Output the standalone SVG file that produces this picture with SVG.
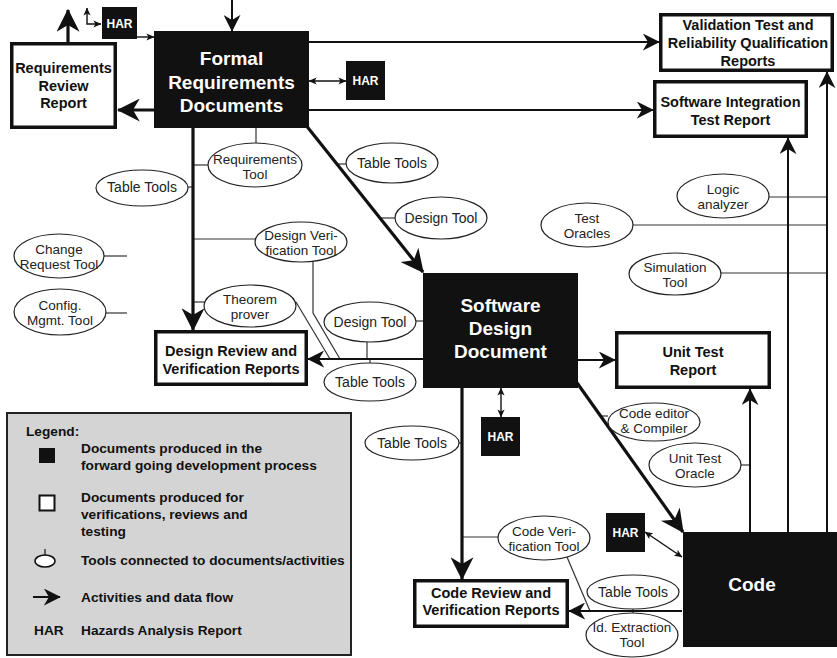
<svg xmlns="http://www.w3.org/2000/svg" width="837" height="658" viewBox="0 0 837 658">
<style>
text{font-family:"Liberation Sans",Arial,Helvetica,sans-serif;}
.doc{fill:#111;}
.rep{fill:#fff;stroke:#111;stroke-width:3.5;}
.big{fill:#fff;font-weight:bold;font-size:19px;text-anchor:middle;}
.bt{fill:#111;font-weight:bold;font-size:14.5px;text-anchor:middle;}
.har{fill:#111;}
.hart{fill:#fff;font-weight:bold;font-size:12px;text-anchor:middle;}
.tool ellipse{fill:#fff;stroke:#222;stroke-width:1.2;}
.tool text{fill:#222;font-size:14px;text-anchor:middle;}
.tool text.two{font-size:13.5px;}
.thin{fill:none;stroke:#333;stroke-width:1.2;}
.a3{fill:none;stroke:#111;stroke-width:3.2;marker-end:url(#ab);}
.a2{fill:none;stroke:#111;stroke-width:2;marker-end:url(#am);}
.a1{fill:none;stroke:#111;stroke-width:1.4;marker-end:url(#as);marker-start:url(#as);}
.lg{fill:#111;font-weight:bold;font-size:13.7px;}
</style>
<defs>
<marker id="ab" viewBox="0 0 20 20" refX="19" refY="10" markerWidth="23" markerHeight="23" markerUnits="userSpaceOnUse" orient="auto"><path d="M0,0 L20,10 L0,20 L6,10 z" fill="#111"/></marker>
<marker id="am" viewBox="0 0 20 20" refX="19" refY="10" markerWidth="17" markerHeight="17" markerUnits="userSpaceOnUse" orient="auto"><path d="M0,0 L20,10 L0,20 L6,10 z" fill="#111"/></marker>
<marker id="as" viewBox="0 0 20 20" refX="19" refY="10" markerWidth="8" markerHeight="8" markerUnits="userSpaceOnUse" orient="auto-start-reverse"><path d="M0,1 L20,10 L0,19 L5,10 z" fill="#111"/></marker>
</defs>

<g id="connectors">
<path class="thin" d="M256,128 V143"/>
<path class="thin" d="M193,165 H209"/>
<path class="thin" d="M188,187 H193"/>
<path class="thin" d="M337,164 H346"/>
<path class="thin" d="M381,218 H395"/>
<path class="thin" d="M193,239 H255"/>
<path class="thin" d="M104,256 H127"/>
<path class="thin" d="M106,313 H127"/>
<path class="thin" d="M193,302 H204"/>
<path class="thin" d="M313,261 V313 L340,359"/>
<path class="thin" d="M296,302 L330,359"/>
<path class="thin" d="M416,321 H423"/>
<path class="thin" d="M367,342 V359"/>
<path class="thin" d="M370,359 V363"/>
<path class="thin" d="M769,197 H827"/>
<path class="thin" d="M633,225 H827"/>
<path class="thin" d="M721,273 H827"/>
<path class="thin" d="M601,416 H608"/>
<path class="thin" d="M741,465 H750"/>
<path class="thin" d="M459,443 H462"/>
<path class="thin" d="M462,537 H498"/>
<path class="thin" d="M567,557 L590,611"/>
<path class="thin" d="M633,609 V613"/>
<path class="a2" d="M232,0 V31"/>
<path class="a3" d="M154,110 H118"/>
<path class="a3" d="M68,42 V10"/>
<path class="a1" d="M87,8 V24 H101"/>
<path fill="none" stroke="#111" stroke-width="1.4" marker-end="url(#as)" d="M137,37 H154"/>
<path class="a1" d="M309,81 H346"/>
<path class="a2" d="M309,42 H659"/>
<path class="a2" d="M309,110 H653"/>
<path class="a3" d="M305,124 L423,272"/>
<path class="a3" d="M193,128 V330"/>
<path class="a2" d="M423,359 H308"/>
<path class="a2" d="M578,360 H615"/>
<path class="a1" d="M501,388 V417"/>
<path class="a3" d="M462,388 V579"/>
<path class="a3" d="M575,380 L683,532"/>
<path class="a1" d="M645,532 L682,557"/>
<path class="a2" d="M682,611 H569"/>
<path class="a2" d="M750,532 V389"/>
<path class="a2" d="M788,532 V138"/>
<path class="a2" d="M827,532 V72"/>
</g>

<g id="formal-requirements">
<rect class="doc" x="154" y="31" width="155" height="97"/>
<text class="big" x="231.5" y="65">Formal</text>
<text class="big" x="231.5" y="89">Requirements</text>
<text class="big" x="231.5" y="112">Documents</text>
</g>
<g id="software-design">
<rect class="doc" x="423" y="273" width="155" height="115"/>
<text class="big" x="500.5" y="312">Software</text>
<text class="big" x="500.5" y="335">Design</text>
<text class="big" x="500.5" y="358">Document</text>
</g>
<g id="code">
<rect class="doc" x="683" y="532" width="154" height="115"/>
<text class="big" x="752" y="591">Code</text>
</g>

<g id="requirements-review">
<rect class="rep" x="11.75" y="43.75" width="103.5" height="83.5"/>
<text class="bt" x="63.5" y="73">Requirements</text>
<text class="bt" x="63.5" y="91">Review</text>
<text class="bt" x="63.5" y="108">Report</text>
</g>
<g id="validation">
<rect class="rep" x="660.75" y="14.75" width="171.5" height="55.5"/>
<text class="bt" x="748" y="30">Validation Test and</text>
<text class="bt" x="748" y="48">Reliability Qualification</text>
<text class="bt" x="748" y="66">Reports</text>
</g>
<g id="integration">
<rect class="rep" x="654.75" y="81.75" width="151.5" height="54.5"/>
<text class="bt" x="730.5" y="107">Software Integration</text>
<text class="bt" x="730.5" y="125">Test Report</text>
</g>
<g id="design-review">
<rect class="rep" x="155.75" y="331.75" width="150.5" height="52.5"/>
<text class="bt" x="231" y="356">Design Review and</text>
<text class="bt" x="231" y="374">Verification Reports</text>
</g>
<g id="unit-test">
<rect class="rep" x="616.75" y="332.75" width="152.5" height="54.5"/>
<text class="bt" x="693" y="357">Unit Test</text>
<text class="bt" x="693" y="375">Report</text>
</g>
<g id="code-review">
<rect class="rep" x="414.75" y="580.75" width="152.5" height="45.5"/>
<text class="bt" x="491" y="598">Code Review and</text>
<text class="bt" x="491" y="615">Verification Reports</text>
</g>

<g id="har-top"><rect class="har" x="102" y="7" width="35" height="32"/><text class="hart" x="119.5" y="27.5">HAR</text></g>
<g id="har-formal"><rect class="har" x="346" y="61" width="39" height="39"/><text class="hart" x="365.5" y="85">HAR</text></g>
<g id="har-design"><rect class="har" x="481" y="417" width="39" height="39"/><text class="hart" x="500.5" y="441">HAR</text></g>
<g id="har-code"><rect class="har" x="606" y="513" width="39" height="39"/><text class="hart" x="625.5" y="537">HAR</text></g>

<g id="tool-requirements" class="tool"><ellipse cx="255" cy="165" rx="47" ry="22"/><text class="two" x="255" y="164">Requirements</text><text class="two" x="255" y="179.2">Tool</text></g>
<g id="tool-table-left" class="tool"><ellipse cx="142" cy="188" rx="46" ry="18"/><text x="142" y="192">Table Tools</text></g>
<g id="tool-table-upper" class="tool"><ellipse cx="392" cy="163" rx="46" ry="20"/><text x="392" y="168">Table Tools</text></g>
<g id="tool-design-upper" class="tool"><ellipse cx="441" cy="218" rx="46" ry="21"/><text x="441" y="223">Design Tool</text></g>
<g id="tool-design-verification" class="tool"><ellipse cx="301" cy="242" rx="46" ry="20"/><text class="two" x="301" y="239.5">Design Veri-</text><text class="two" x="301" y="254.7">fication Tool</text></g>
<g id="tool-change-request" class="tool"><ellipse cx="59" cy="256" rx="45" ry="22"/><text class="two" x="59" y="253.5">Change</text><text class="two" x="59" y="268.7">Request Tool</text></g>
<g id="tool-config" class="tool"><ellipse cx="60" cy="312" rx="46" ry="23"/><text class="two" x="60" y="309.5">Config.</text><text class="two" x="60" y="324.7">Mgmt. Tool</text></g>
<g id="tool-theorem" class="tool"><ellipse cx="250" cy="306" rx="46" ry="21"/><text class="two" x="250" y="303.5">Theorem</text><text class="two" x="250" y="318.7">prover</text></g>
<g id="tool-design-mid" class="tool"><ellipse cx="370" cy="322" rx="46" ry="20"/><text x="370" y="327">Design Tool</text></g>
<g id="tool-table-mid" class="tool"><ellipse cx="370" cy="382" rx="46" ry="19"/><text x="370" y="387">Table Tools</text></g>
<g id="tool-logic" class="tool"><ellipse cx="723" cy="196" rx="46" ry="22"/><text class="two" x="723" y="193.5">Logic</text><text class="two" x="723" y="208.7">analyzer</text></g>
<g id="tool-oracles" class="tool"><ellipse cx="587" cy="225" rx="46" ry="22"/><text class="two" x="587" y="222.5">Test</text><text class="two" x="587" y="237.7">Oracles</text></g>
<g id="tool-simulation" class="tool"><ellipse cx="675" cy="274" rx="46" ry="21"/><text class="two" x="675" y="271.5">Simulation</text><text class="two" x="675" y="286.7">Tool</text></g>
<g id="tool-code-editor" class="tool"><ellipse cx="654" cy="422" rx="46" ry="19"/><text class="two" x="654" y="418">Code editor</text><text class="two" x="654" y="433.2">&amp; Compiler</text></g>
<g id="tool-unit-oracle" class="tool"><ellipse cx="695" cy="465" rx="46" ry="22"/><text class="two" x="695" y="462.5">Unit Test</text><text class="two" x="695" y="477.7">Oracle</text></g>
<g id="tool-table-sdd" class="tool"><ellipse cx="412" cy="443" rx="47" ry="17"/><text x="412" y="448">Table Tools</text></g>
<g id="tool-code-verification" class="tool"><ellipse cx="544" cy="538" rx="46" ry="22"/><text class="two" x="544" y="535.5">Code Veri-</text><text class="two" x="544" y="550.7">fication Tool</text></g>
<g id="tool-table-code" class="tool"><ellipse cx="633" cy="592" rx="46" ry="17"/><text x="633" y="597">Table Tools</text></g>
<g id="tool-id-extraction" class="tool"><ellipse cx="632" cy="635" rx="46" ry="22"/><text class="two" x="632" y="632">Id. Extraction</text><text class="two" x="632" y="647.2">Tool</text></g>

<g id="legend">
<rect x="7" y="413" width="344" height="242" fill="#d4d4d4" stroke="#222" stroke-width="2"/>
<text class="lg" x="26" y="436">Legend:</text>
<rect x="39" y="448" width="16" height="15" fill="#111"/>
<text class="lg" x="81" y="453">Documents produced in the</text>
<text class="lg" x="81" y="470">forward going development process</text>
<rect x="39.5" y="495.5" width="15" height="15" fill="#fff" stroke="#111" stroke-width="2"/>
<text class="lg" x="81" y="502">Documents produced for</text>
<text class="lg" x="81" y="519">verifications, reviews and</text>
<text class="lg" x="81" y="536">testing</text>
<path d="M45,549 V555" stroke="#111" stroke-width="1.2"/>
<ellipse cx="45" cy="561" rx="10" ry="6" fill="#fff" stroke="#111" stroke-width="1.5"/>
<text class="lg" x="81" y="565">Tools connected to documents/activities</text>
<path class="a2" d="M33,597 H60"/>
<text class="lg" x="81" y="602">Activities and data flow</text>
<text class="lg" x="34" y="635">HAR</text>
<text class="lg" x="81" y="635">Hazards Analysis Report</text>
</g>
</svg>
